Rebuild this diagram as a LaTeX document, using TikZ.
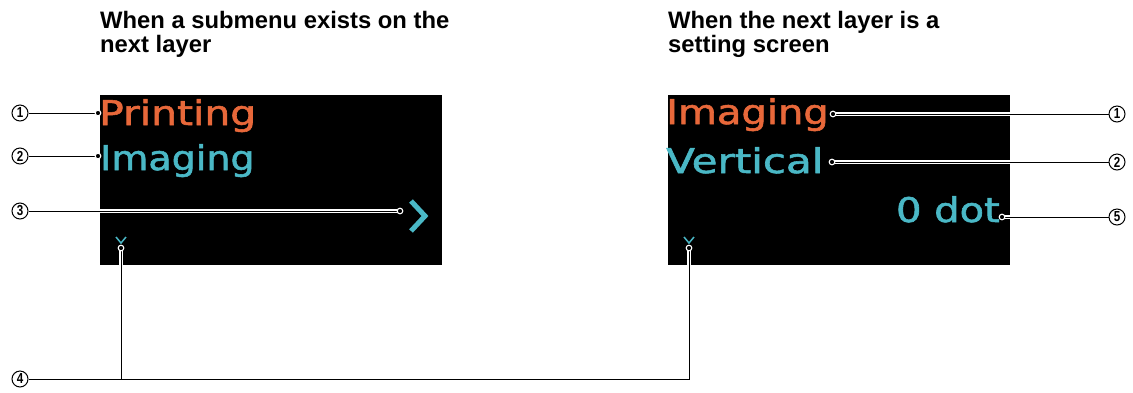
\documentclass[tikz,border=0pt]{standalone}
\usepackage{fontspec}
\setmainfont{Liberation Sans}
\newfontfamily\lcdfont[FakeBold=1.6]{DejaVu Sans}
\definecolor{lcdorange}{RGB}{232,104,58}
\definecolor{lcdcyan}{RGB}{74,184,198}
\tikzset{
  heading/.style={font=\bfseries\fontsize{23.8}{24}\selectfont, align=left, inner sep=0pt, anchor=north west},
  lcd/.style={font=\lcdfont\fontsize{40}{40}\selectfont, inner sep=0pt},
  num/.style={circle, draw, line width=1pt, minimum size=16pt, inner sep=0pt,
    font=\fontsize{14.5}{14.5}\selectfont\bfseries},
  leader/.style={line width=1pt, preaction={draw=white, line width=3.4pt, shorten <=2pt}},
  dotmark/.style={fill=black, draw=white, line width=1.1pt},
}
\newcommand{\lcdtext}[2][1]{\scalebox{#1}[0.85]{#2}}
\newcommand{\numtext}[1]{\scalebox{0.8}[1]{#1}}
\begin{document}
\begin{tikzpicture}[x=1pt, y=-1pt]
  \useasboundingbox (0,0) rectangle (1133,392);
  % headings
  \node[heading] (hL) at (100,11) {When a submenu exists on the\\next layer};
  \node[heading] (hR) at (668,11) {When the next layer is a\\setting screen};
  % screens
  \fill[black] (100,95) rectangle (442,265);
  \fill[black] (668,95) rectangle (1010,265);
  % left screen
  \node[lcd, text=lcdorange, anchor=base west] (t1L) at (99,125) {\lcdtext[1.02]{Printing}};
  \node[lcd, text=lcdcyan, anchor=base west] (t2L) at (100,170) {\lcdtext[0.95]{Imaging}};
  \draw[lcdcyan, line width=5pt, line join=miter] (411,201) -- (425,216) -- (411,231);
  \draw[lcdcyan, line width=1.5pt] (116,237) -- (121,243) -- (126,237);
  % right screen
  \node[lcd, text=lcdorange, anchor=base west] (t1R) at (666,124) {\lcdtext{Imaging}};
  \node[lcd, text=lcdcyan, anchor=base west] (t2R) at (666,173) {\lcdtext[1.05]{Vertical}};
  \node[lcd, text=lcdcyan, anchor=base east] (t5R) at (1000,222) {\lcdtext{0 dot}};
  \draw[lcdcyan, line width=1.5pt] (684,237) -- (689,243) -- (694,237);
  % callout numbers
  \node[num] (n1L) at (20,113) {\numtext{1}};
  \node[num] (n2L) at (20,156) {\numtext{2}};
  \node[num] (n3L) at (20,211) {\numtext{3}};
  \node[num] (n4) at (20,379) {\numtext{4}};
  \node[num] (n1R) at (1117,114) {\numtext{1}};
  \node[num] (n2R) at (1117,162) {\numtext{2}};
  \node[num] (n5R) at (1117,217) {\numtext{5}};
  % leader end points
  \coordinate (d1L) at (98,113);
  \coordinate (d2L) at (98,156);
  \coordinate (d3L) at (400,211);
  \coordinate (d4L) at (121,248);
  \coordinate (d1R) at (833,114);
  \coordinate (d2R) at (832,162);
  \coordinate (d5R) at (1002,217);
  \coordinate (d4R) at (689,248);
  % leaders
  \draw[leader] (n1L) -- (d1L);
  \draw[leader] (n2L) -- (d2L);
  \draw[leader] (n3L) -- (d3L);
  \draw[leader] (n1R) -- (d1R);
  \draw[leader] (n2R) -- (d2R);
  \draw[leader] (n5R) -- (d5R);
  \draw[leader] (d4L) -- (d4L |- n4) (n4) -- (n4 -| d4R) -- (d4R);
  \foreach \d in {d1L,d2L,d3L,d4L,d1R,d2R,d5R,d4R}
    \filldraw[dotmark] (\d) circle (2.8);
\end{tikzpicture}
\end{document}
